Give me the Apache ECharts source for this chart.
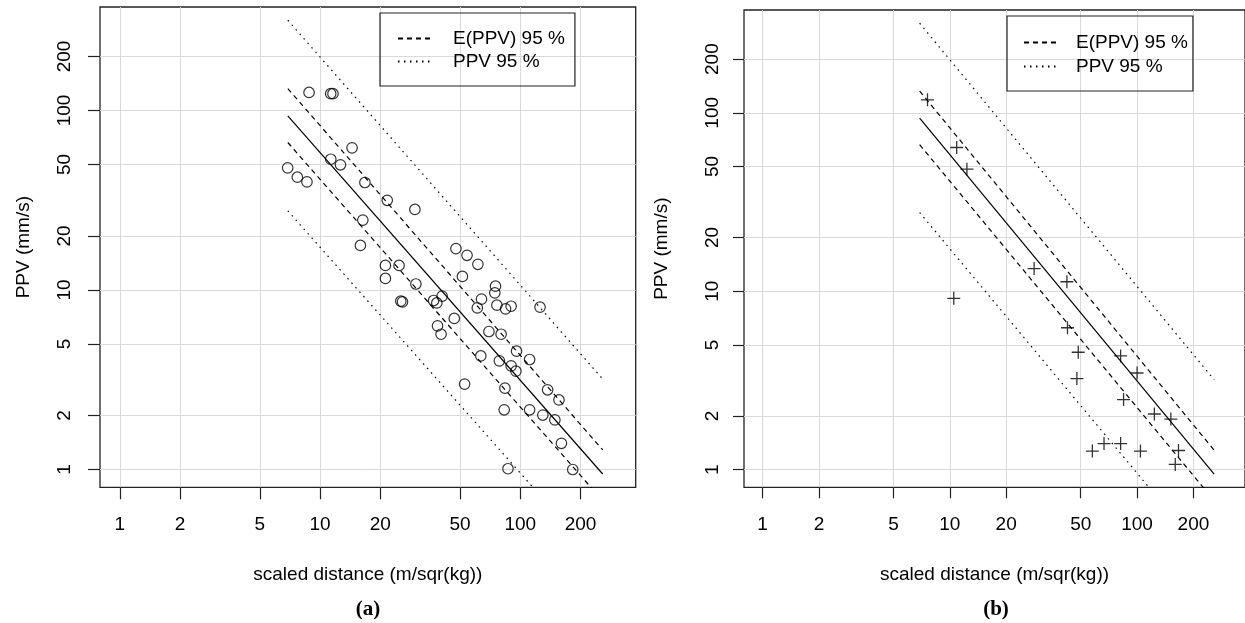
<!DOCTYPE html>
<html><head><meta charset="utf-8">
<script src="https://cdn.jsdelivr.net/npm/echarts@6/dist/echarts.min.js"></script>
<style>html,body{margin:0;padding:0;background:#fff}#c{width:1245px;height:623px}</style>
</head><body><div id="c"></div>
<script>
// ---- data ----
const tickValues = [1, 2, 5, 10, 20, 50, 100, 200];
const axisMin = 0.796, axisMax = 377;

// panel (a) circles
const distA = [8.81, 11.3, 11.6, 14.45, 11.31, 12.64, 6.89, 7.7, 8.6, 16.75, 21.65, 29.76, 16.35, 15.9, 47.7, 54.2,
  61.4, 21.2, 24.8, 21.2, 51.4, 30.1, 75.2, 74.6, 40.7, 25.3, 25.8, 36.9, 38.3, 64.0, 76.4, 61.0, 84.4, 90.0, 125.5,
  46.8, 38.6, 40.2, 69.7, 80.2, 95.8, 63.5, 111.3, 78.6, 90.0, 95.1, 52.7, 136.9, 83.8, 156, 83.1, 111.3, 129.6, 148.8,
  160.5, 86.8, 182.8];
const ppvA = [126, 124, 124, 61.9, 53.5, 49.8, 47.9, 42.5, 40.0, 39.7, 31.6, 28.1, 24.5, 17.7, 17.0, 15.6,
  13.9, 13.7, 13.7, 11.6, 11.9, 10.8, 10.5, 9.64, 9.24, 8.66, 8.59, 8.74, 8.47, 8.89, 8.23, 7.95, 7.85, 8.12, 8.02,
  6.94, 6.31, 5.67, 5.87, 5.67, 4.56, 4.29, 4.10, 4.03, 3.78, 3.53, 2.99, 2.78, 2.84, 2.44, 2.15, 2.15, 2.01, 1.89,
  1.40, 1.01, 1.00];

// panel (b) crosses
const distB = [7.6, 10.88, 12.34, 28.2, 42.2, 10.5, 42.5, 48.5, 81.7, 100, 47.7, 84.7, 123.7, 151.5, 57.7, 66.6, 81.7, 104.2, 166.4, 159.9];
const ppvB = [118.3, 63.9, 48.3, 13.4, 11.3, 9.12, 6.24, 4.55, 4.34, 3.48, 3.24, 2.47, 2.05, 1.92, 1.27, 1.40, 1.40, 1.27, 1.28, 1.07];

// model lines (end points)
const lineDist = [6.9, 258];
const fitPPV = [93.3, 0.944];
const meanUpperPPV = [132.5, 1.285];
const meanLowerPPV = [66.3, 0.67];
const predUpperPPV = [318, 3.19];
const predLowerPPV = [27.6, 0.29];

const nameE = 'E(PPV) 95 %';
const nameP = 'PPV 95 %';

// ---- build ----
const FONT = 'Liberation Sans';
function pairs(xs, ys) { return xs.map((x, i) => [x, ys[i]]); }

const panels = [
  { grid: { left: 100, top: 7, width: 535.7, height: 480.3 }, tick: 12, ymargin: 26, yNameGap: 67, legend: { left: 380, top: 13, padding: [16, 10, 15, 17], itemWidth: 35, gap: 4, tpad: 15 },
    label: '(a)', labelX: 368 },
  { grid: { left: 744, top: 10, width: 504.8, height: 477.3 }, tick: 11, ymargin: 22, yNameGap: 73, legend: { left: 1007, top: 16, padding: [17, 5, 15, 16], itemWidth: 34, gap: 5, tpad: 13 },
    label: '(b)', labelX: 996 }
];

const grids = [], xAxes = [], yAxes = [], series = [], legends = [], graphics = [];
panels.forEach((p, i) => {
  grids.push(Object.assign({ show: true, borderColor: '#222', borderWidth: 1.3, backgroundColor: 'transparent' }, p.grid));
  const common = {
    type: 'log', logBase: 10, gridIndex: i, min: axisMin, max: axisMax,
    axisLine: { show: false },
    axisTick: { show: true, length: p.tick, customValues: tickValues, lineStyle: { color: '#222', width: 1.2 } },
    splitLine: { show: true, lineStyle: { color: '#d9d9d9', width: 1 } },
    minorTick: { show: false }, minorSplitLine: { show: false },
    nameLocation: 'middle',
    nameTextStyle: { fontFamily: FONT, fontSize: 19, color: '#000' }
  };
  xAxes.push(Object.assign({}, common, {
    name: 'scaled distance (m/sqr(kg))', nameGap: 78,
    axisLabel: { customValues: tickValues, margin: 28, fontFamily: FONT, fontSize: 19, color: '#000', formatter: v => String(Math.round(v)) }
  }));
  yAxes.push(Object.assign({}, common, {
    name: 'PPV (mm/s)', nameGap: p.yNameGap,
    axisLabel: { customValues: tickValues, margin: p.ymargin, rotate: 90, fontFamily: FONT, fontSize: 19, color: '#000', formatter: v => String(Math.round(v)) }
  }));

  const lineSer = (name, ys, dash) => ({
    type: 'line', name: name, xAxisIndex: i, yAxisIndex: i, data: pairs(lineDist, ys),
    symbol: 'none', silent: true, clip: true,
    itemStyle: { color: 'rgba(0,0,0,0)' },
    lineStyle: { color: '#000', width: 1.2, type: dash }
  });
  series.push(lineSer('fit', fitPPV, 'solid'));
  series.push(lineSer(nameE, meanUpperPPV, [5, 4]));
  series.push(lineSer(nameE, meanLowerPPV, [5, 4]));
  series.push(lineSer(nameP, predUpperPPV, [1.5, 4.5]));
  series.push(lineSer(nameP, predLowerPPV, [1.5, 4.5]));

  if (i === 0) {
    series.push({ type: 'scatter', name: 'a', xAxisIndex: 0, yAxisIndex: 0, data: pairs(distA, ppvA),
      symbol: 'circle', symbolSize: 10.5, itemStyle: { color: 'rgba(0,0,0,0)', borderColor: '#000', borderWidth: 1.2 } });
  } else {
    series.push({ type: 'scatter', name: 'b', xAxisIndex: 1, yAxisIndex: 1, data: pairs(distB, ppvB),
      symbol: 'path://M0,6H12M6,0V12', symbolSize: 13, itemStyle: { color: 'rgba(0,0,0,0)', borderColor: '#000', borderWidth: 1.3 } });
  }

  legends.push({
    left: p.legend.left, top: p.legend.top, orient: 'vertical', data: [nameE, nameP],
    itemWidth: p.legend.itemWidth, itemHeight: 19, itemGap: p.legend.gap, padding: p.legend.padding,
    borderColor: '#222', borderWidth: 1.2, selectedMode: false,
    itemStyle: { opacity: 0 },
    textStyle: { fontFamily: FONT, fontSize: 19, color: '#000', padding: [0, 0, 0, p.legend.tpad] }
  });

  graphics.push({ type: 'text', x: p.labelX, y: 610, style: { text: p.label, textAlign: 'center', textVerticalAlign: 'middle', font: 'bold 21px "Liberation Serif"', fill: '#000' } });
});

const chart = echarts.init(document.getElementById('c'), null, { renderer: 'canvas' });
chart.setOption({
  animation: false,
  backgroundColor: '#fff',
  grid: grids, xAxis: xAxes, yAxis: yAxes, series: series, legend: legends, graphic: graphics
});
</script>
</body></html>
